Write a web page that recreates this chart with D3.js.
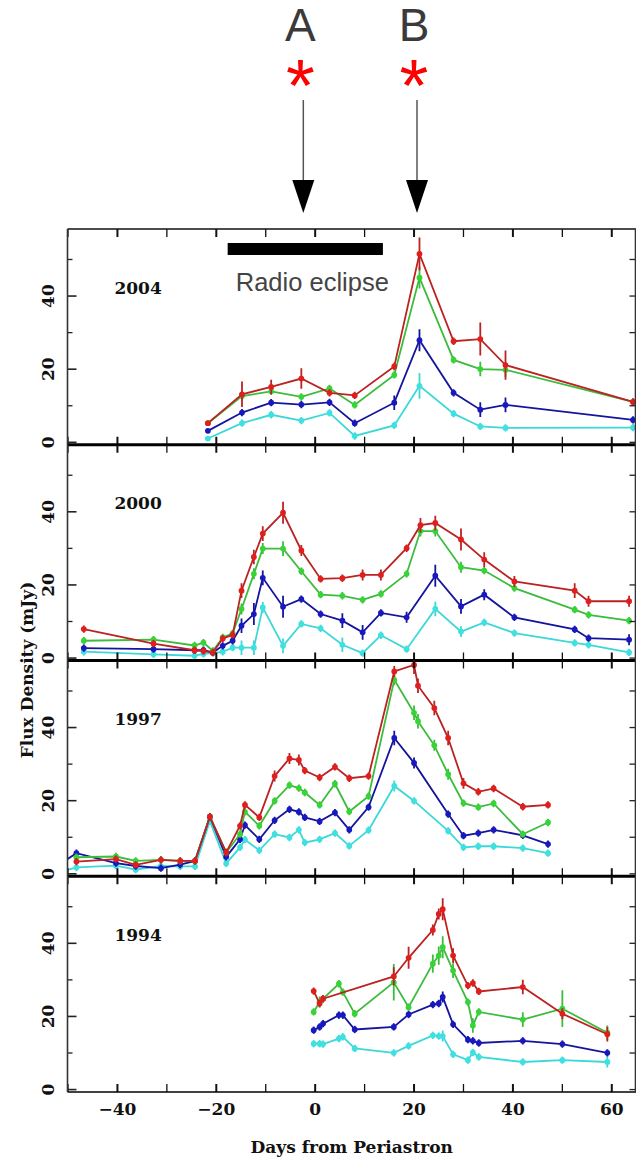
<!DOCTYPE html>
<html>
<head>
<meta charset="utf-8">
<script src="https://cdn.jsdelivr.net/npm/d3@7"></script>
<style>
  body { margin: 0; background: #fff; }
  svg { display: block; }
</style>
</head>
<body>
<div id="chart"></div>
<script>
// ---- data (days from periastron, flux density in mJy) ----
var years = ["2004", "2000", "1997", "1994"];

var days2004  = [-21.6, -14.7, -8.8, -2.7, 3.0, 8.1, 16.1, 21.2, 28.1, 33.5, 38.6, 64.4];
var red2004   = [5.1, 13.0, 15.0, 17.3, 13.4, 12.7, 20.6, 51.4, 27.5, 28.1, 21.0, 10.9];
var green2004 = [5.1, 12.5, 13.8, 12.3, 14.6, 10.1, 18.3, 44.9, 22.4, 19.9, 19.7, 10.9];
var blue2004  = [3.0, 8.0, 10.7, 10.2, 10.8, 5.1, 10.7, 27.8, 13.4, 8.8, 10.1, 6.0];
var cyan2004  = [0.9, 5.1, 7.4, 5.8, 7.9, 1.6, 4.5, 15.3, 7.7, 4.2, 3.8, 3.9];
var redErr2004   = [0.5, 3.5, 2, 2.8, 1, 1, 1, 4.5, 1, 4.5, 4, 1];
var greenErr2004 = [0.5, 1, 1, 1, 1, 1, 1, 3, 1, 2, 2, 1];
var blueErr2004  = [0.5, 1, 1, 1, 1, 1, 2, 3, 1, 2, 2, 1];
var cyanErr2004  = [0.5, 1, 1, 1, 1, 1, 1, 3.5, 1, 1, 1, 1];

var days2000  = [-46.7, -32.6, -24.3, -22.5, -20.6, -18.6, -16.6, -14.8, -12.3, -10.5, -6.4, -2.7, 1.2, 5.6, 9.7, 13.4, 18.6, 21.4, 24.4, 29.6, 34.3, 40.4, 52.6, 55.4, 63.6];
var red2000   = [7.8, 3.8, 2.0, 1.8, 1.4, 5.2, 6.2, 18.3, 27.5, 33.9, 39.6, 29.3, 21.5, 21.7, 22.6, 22.6, 29.9, 36.2, 36.8, 32.3, 26.8, 20.8, 18.3, 15.4, 15.4];
var green2000 = [4.6, 4.9, 3.3, 4.1, 1.8, 5.5, 6.6, 13.3, 22.9, 29.8, 29.8, 23.6, 17.2, 16.9, 15.8, 17.4, 22.9, 34.6, 34.6, 24.7, 23.8, 19.0, 13.1, 11.7, 10.1];
var blue2000  = [2.6, 2.3, 2.0, 2.0, 1.4, 3.2, 4.6, 8.7, 11.9, 21.8, 13.9, 16.0, 11.9, 10.1, 6.9, 12.2, 11.0, null, 22.4, 14.0, 17.2, 11.0, 7.7, 5.3, 4.9];
var cyan2000  = [1.6, 0.9, 0.5, 1.0, 1.2, 1.6, 2.7, 2.7, 2.7, 13.7, 3.2, 9.2, 8.0, 3.5, 1.2, 6.1, 2.3, null, 13.3, 7.1, 9.6, 6.7, 4.0, 3.5, 1.4];
var redErr2000   = [1, 1, 1, 1, 1, 1, 1, 2, 2, 2, 3, 1.5, 1, 1, 1.5, 1.5, 1, 2, 2, 3, 2, 1.5, 2, 1.5, 1.5];
var greenErr2000 = [1, 1, 1, 1, 1, 1, 1, 1.5, 1.5, 1.5, 2, 1, 1, 1, 1, 1, 1, 1.5, 1.5, 1.5, 1, 1, 1, 1, 1];
var blueErr2000  = [1, 1, 1, 1, 1, 1, 1, 2, 3, 2, 3, 1, 1, 2, 2, 1, 1.5, 0, 3, 2, 1.5, 1, 1, 1, 1.5];
var cyanErr2000  = [1, 1, 1, 1, 1, 1, 1, 2, 2, 1.5, 2, 1, 1, 2, 1, 1, 1, 0, 2, 1.5, 1, 1, 1, 1, 1];

var days1997  = [-51, -48.2, -40.2, -36.2, -31.1, -27.2, -24.2, -21.2, -17.9, -15.1, -14.1, -11.2, -8.1, -5.1, -3.2, -2.0, 1.0, 4.1, 7.0, 10.9, 16.1, 20.1, 20.9, 24.2, 27.0, 30.1, 33.1, 36.2, 42.1, 47.2];
var red1997   = [null, 3.2, 3.9, 2.3, 3.7, 3.4, 3.4, 15.5, 5.7, 13.0, 18.7, 15.3, 26.6, 31.4, 31.0, 28.1, 26.2, 29.1, 26.0, 26.6, 55.2, 57.0, 51.3, 45.2, 37.0, 24.6, 22.3, 23.2, 18.2, 18.7];
var green1997 = [null, 4.4, 4.6, 3.4, 3.7, 3.4, 3.4, 15.5, 5.7, 10.7, 16.8, 13.0, 19.8, 24.1, 23.3, 22.1, 18.7, 24.5, 16.9, 21.1, 52.9, 43.9, 41.6, 35.0, 27.1, 19.2, 18.1, 19.1, 10.7, 13.9];
var blue1997  = [3.0, 5.5, 2.8, 2.0, 1.4, 2.4, 3.4, 15.5, 4.5, 9.3, 13.2, 9.3, 14.5, 17.5, 16.8, 15.3, 14.2, 16.6, 11.9, 18.1, 37.0, 30.2, null, null, 16.2, 10.3, 11.0, 11.9, 10.4, 8.0];
var cyan1997  = [0.6, 1.6, 2.1, 1.0, 2.0, 1.9, 1.9, 14.3, 2.7, 7.1, 9.2, 6.3, 10.7, 9.8, 11.9, 8.4, 9.3, 11.0, 7.5, 11.8, 23.9, 19.8, null, null, 11.6, 7.1, 7.4, 7.4, 6.9, 5.5];
var redErr1997   = [0, 1, 1, 1, 1, 1, 1, 1, 1, 1, 1, 1, 1.5, 1.5, 1.5, 1, 1, 1, 1, 1, 1.5, 2.5, 2, 2, 2, 1.5, 1, 1, 1, 1];
var greenErr1997 = [0, 1, 1, 1, 1, 1, 1, 1, 1, 1, 1, 1, 1, 1, 1, 1, 1, 1, 1, 1, 1.5, 2, 2, 1.5, 1.5, 1, 1, 1, 1, 1];
var blueErr1997  = [0, 1, 1, 1, 1, 1, 1, 1, 1, 1, 1, 1, 1, 1, 1, 1, 1, 1, 1, 1, 2, 1.5, 0, 0, 1, 1, 1, 1, 1, 1];
var cyanErr1997  = [0, 1, 1, 1, 1, 1, 1, 1, 1, 1, 1, 1, 1, 1, 1, 1, 1, 1, 1, 1, 1.5, 1, 0, 0, 1, 1, 1, 1, 1, 1];

var days1994  = [-0.2, 1.0, 1.7, 4.9, 5.7, 8.1, 16.0, 19.0, 23.9, 25.1, 25.9, 28.0, 31.0, 32.0, 33.2, 42.1, 50.1, 59.2];
var red1994   = [26.8, 23.4, 24.7, null, null, null, 30.8, 35.9, 43.5, 47.9, 49.2, 36.5, 28.3, 29.0, 26.7, 27.9, 20.6, 15.0];
var green1994 = [21.1, 23.8, 24.7, 28.8, 26.5, 20.6, 29.2, 22.4, 34.3, 36.5, 38.8, 32.4, 23.8, 17.4, 21.1, 19.0, 22.0, 15.4];
var blue1994  = [16.1, 17.0, 17.9, 20.2, 20.2, 16.3, 17.0, 20.4, 23.1, 23.4, 25.2, 17.7, 13.5, 13.2, 12.6, 13.2, 12.3, 9.9];
var cyan1994  = [12.4, 12.4, 12.3, 13.8, 14.3, 11.1, 9.9, 11.8, 14.7, 14.5, 14.5, 9.5, 7.9, 10.0, 8.8, 7.4, 7.9, 7.4];
var redErr1994   = [1, 1, 1, 0, 0, 0, 2.5, 3, 1.5, 1.5, 3, 2, 1, 1, 1, 2, 1.5, 2];
var greenErr1994 = [1, 1.5, 1, 1, 1, 1, 5, 1, 2.5, 2.5, 3, 2, 1, 2, 1, 2, 5, 2];
var blueErr1994  = [1, 1, 1, 1, 1, 1, 1, 1, 1, 1, 1.5, 1, 1, 1, 1, 1, 1, 1];
var cyanErr1994  = [1, 1, 1, 1, 1, 1, 1, 1, 1, 1, 1.5, 1, 1, 1, 1, 1, 1, 1.5];

// annotations
var markerDays = [-2.3, 20.7];
var markerLabels = ["A", "B"];
var eclipseDays = [-17.6, 13.8];

// ---- layout ----
var width = 636, height = 1159;
var plotLeft = 67.5, plotRight = 636, plotTop = 229, plotBottom = 1092;
var panelH = (plotBottom - plotTop) / years.length;

var seriesColors = ["#e01e1e", "#36d436", "#1818c0", "#3ee0e0"];
var lineColors   = ["#bc2222", "#3cbc3c", "#14149c", "#3cd8d8"];

var panelData = {
  "2004": { days: days2004, vals: [red2004, green2004, blue2004, cyan2004], errs: [redErr2004, greenErr2004, blueErr2004, cyanErr2004] },
  "2000": { days: days2000, vals: [red2000, green2000, blue2000, cyan2000], errs: [redErr2000, greenErr2000, blueErr2000, cyanErr2000] },
  "1997": { days: days1997, vals: [red1997, green1997, blue1997, cyan1997], errs: [redErr1997, greenErr1997, blueErr1997, cyanErr1997] },
  "1994": { days: days1994, vals: [red1994, green1994, blue1994, cyan1994], errs: [redErr1994, greenErr1994, blueErr1994, cyanErr1994] }
};

var x = d3.scaleLinear().domain([-50, 65]).range([plotLeft, plotRight]);

var svg = d3.select("#chart").append("svg")
  .attr("width", width)
  .attr("height", height);

var serif = "'DejaVu Serif', serif";
var sans = "'Liberation Sans', Arial, sans-serif";

years.forEach(function(yr, i) {
  var y0 = plotTop + i * panelH;
  var y = d3.scaleLinear().domain([-0.8, 58.2]).range([y0 + panelH, y0]);
  var g = svg.append("g");

  g.append("clipPath").attr("id", "clip" + yr)
    .append("rect").attr("x", plotLeft).attr("y", y0).attr("width", plotRight - plotLeft).attr("height", panelH);

  var plot = g.append("g").attr("clip-path", "url(#clip" + yr + ")");
  var pd = panelData[yr];

  // draw cyan first, red last
  [3, 2, 1, 0].forEach(function(s) {
    var pts = [];
    pd.days.forEach(function(d, k) {
      if (pd.vals[s][k] != null) pts.push({ day: d, v: pd.vals[s][k], e: pd.errs[s][k] });
    });
    var line = d3.line().x(function(d) { return x(d.day); }).y(function(d) { return y(d.v); });
    plot.append("path").datum(pts)
      .attr("d", line)
      .attr("fill", "none")
      .attr("stroke", lineColors[s])
      .attr("stroke-width", 1.8);
    plot.selectAll(".err" + s).data(pts.filter(function(d) { return d.e > 0; })).enter()
      .append("line")
      .attr("x1", function(d) { return x(d.day); })
      .attr("x2", function(d) { return x(d.day); })
      .attr("y1", function(d) { return y(d.v - d.e); })
      .attr("y2", function(d) { return y(d.v + d.e); })
      .attr("stroke", lineColors[s])
      .attr("stroke-width", 1.8);
    plot.selectAll(".dot" + s).data(pts).enter()
      .append("circle")
      .attr("cx", function(d) { return x(d.day); })
      .attr("cy", function(d) { return y(d.v); })
      .attr("r", 2.9)
      .attr("fill", seriesColors[s]);
  });

  // x ticks, inward at top and bottom
  var xt = d3.range(-50, 70, 10);
  g.append("g").attr("transform", "translate(0," + (y0 + panelH) + ")")
    .call(d3.axisBottom(x).tickValues(xt).tickSize(-8).tickFormat(""))
    .call(function(a) { a.select(".domain").remove(); a.selectAll("line").attr("stroke", "#111").attr("stroke-width", function(d) { return d % 20 === 0 ? 2 : 1.3; }); });
  g.append("g").attr("transform", "translate(0," + y0 + ")")
    .call(d3.axisTop(x).tickValues(xt).tickSize(-8).tickFormat(""))
    .call(function(a) { a.select(".domain").remove(); a.selectAll("line").attr("stroke", "#111").attr("stroke-width", function(d) { return d % 20 === 0 ? 2 : 1.3; }); });

  // y ticks, left (labelled) and right
  g.append("g").attr("transform", "translate(" + plotLeft + ",0)")
    .call(d3.axisLeft(y).tickValues([10, 30, 50]).tickSize(-5).tickFormat(""))
    .call(function(a) { a.select(".domain").remove(); a.selectAll("line").attr("stroke", "#222").attr("stroke-width", 1.3); });
  g.append("g").attr("transform", "translate(" + plotLeft + ",0)")
    .call(d3.axisLeft(y).tickValues([0, 20, 40]).tickSize(-9))
    .call(function(a) {
      a.select(".domain").remove();
      a.selectAll("line").attr("stroke", "#222").attr("stroke-width", 1.6);
      a.selectAll("text")
        .attr("transform", "rotate(-90)")
        .attr("x", 0).attr("y", -14).attr("dy", 0)
        .attr("text-anchor", "middle")
        .attr("font-family", serif).attr("font-weight", "bold").attr("font-size", 17)
        .attr("fill", "#111");
    });
  g.append("g").attr("transform", "translate(" + (plotRight - 0.5) + ",0)")
    .call(d3.axisRight(y).tickValues([0, 10, 20, 30, 40, 50]).tickSize(-6).tickFormat(""))
    .call(function(a) { a.select(".domain").remove(); a.selectAll("line").attr("stroke", "#222").attr("stroke-width", 1.3); });

  // year label
  g.append("text")
    .attr("x", x(-40.5)).attr("y", y(40.5))
    .attr("font-family", serif).attr("font-weight", "bold").attr("font-size", 17)
    .attr("fill", "#111")
    .text(yr);

  // separator / frame lines
  g.append("line").attr("x1", plotLeft).attr("x2", plotRight).attr("y1", y0 + panelH).attr("y2", y0 + panelH)
    .attr("stroke", "#000").attr("stroke-width", i < years.length - 1 ? 3 : 1.6);
});

// frame
svg.append("line").attr("x1", plotLeft).attr("x2", plotRight).attr("y1", plotTop).attr("y2", plotTop)
  .attr("stroke", "#111").attr("stroke-width", 1.6);
svg.append("line").attr("x1", plotLeft).attr("x2", plotLeft).attr("y1", plotTop).attr("y2", plotBottom)
  .attr("stroke", "#333").attr("stroke-width", 1.6);
svg.append("line").attr("x1", plotRight - 0.5).attr("x2", plotRight - 0.5).attr("y1", plotTop).attr("y2", plotBottom)
  .attr("stroke", "#333").attr("stroke-width", 1.6);

// x tick labels on bottom panel
svg.append("g").attr("transform", "translate(0," + plotBottom + ")")
  .call(d3.axisBottom(x).tickValues([-40, -20, 0, 20, 40, 60]).tickSize(0).tickPadding(11))
  .call(function(a) {
    a.select(".domain").remove();
    a.selectAll("text").attr("font-family", serif).attr("font-weight", "bold").attr("font-size", 17).attr("fill", "#111");
  });

// axis titles
svg.append("text")
  .attr("x", (plotLeft + plotRight) / 2).attr("y", 1153)
  .attr("text-anchor", "middle")
  .attr("font-family", serif).attr("font-weight", "bold").attr("font-size", 17)
  .attr("fill", "#111")
  .text("Days from Periastron");
svg.append("text")
  .attr("transform", "translate(33,670) rotate(-90)")
  .attr("text-anchor", "middle")
  .attr("font-family", serif).attr("font-weight", "bold").attr("font-size", 17)
  .attr("fill", "#111")
  .text("Flux Density (mJy)");

// radio eclipse bar
svg.append("rect")
  .attr("x", x(eclipseDays[0])).attr("width", x(eclipseDays[1]) - x(eclipseDays[0]))
  .attr("y", 243).attr("height", 12)
  .attr("fill", "#000");
svg.append("text")
  .attr("x", (x(eclipseDays[0]) + x(eclipseDays[1])) / 2 + 7).attr("y", 291)
  .attr("text-anchor", "middle")
  .attr("font-family", sans).attr("font-size", 25.5)
  .attr("fill", "#444")
  .text("Radio eclipse");

// A / B markers with arrows
markerDays.forEach(function(d, i) {
  var cx = x(d);
  svg.append("text")
    .attr("x", cx - 3).attr("y", 41)
    .attr("text-anchor", "middle")
    .attr("font-family", sans).attr("font-size", 46)
    .attr("fill", "#3a3a3a")
    .text(markerLabels[i]);
  svg.append("text")
    .attr("x", cx - 3).attr("y", 111)
    .attr("text-anchor", "middle")
    .attr("font-family", sans).attr("font-size", 74)
    .attr("fill", "#ff0000")
    .text("*");
  svg.append("line")
    .attr("x1", cx).attr("x2", cx).attr("y1", 100).attr("y2", 181)
    .attr("stroke", "#555").attr("stroke-width", 1.5);
  svg.append("path")
    .attr("d", "M" + (cx - 11) + ",180L" + (cx + 11) + ",180L" + cx + ",213Z")
    .attr("fill", "#000");
});
</script>
</body>
</html>
